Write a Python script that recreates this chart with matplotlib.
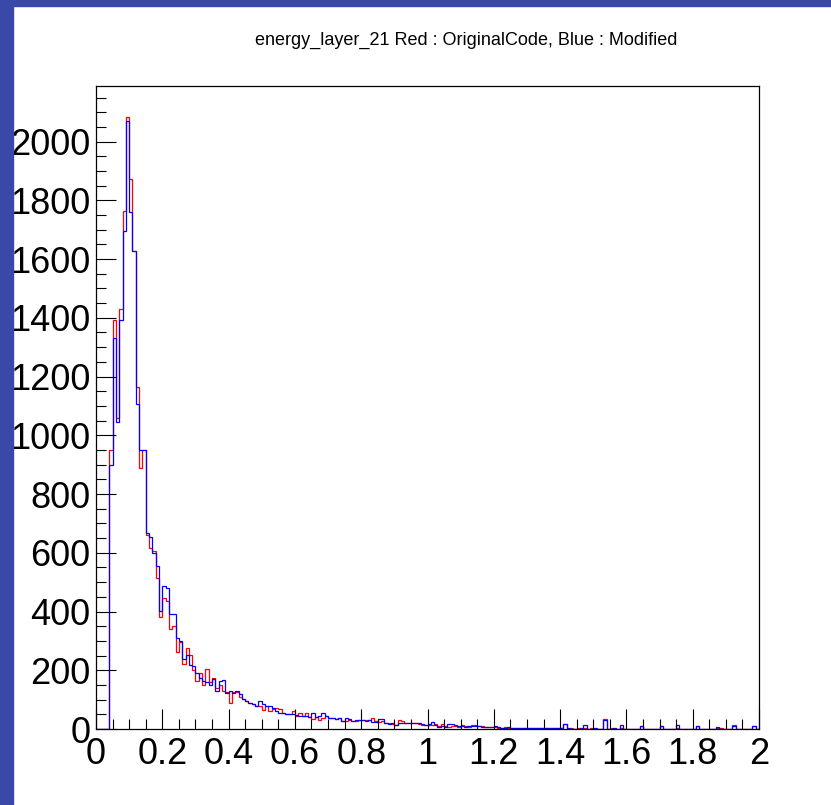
import numpy as np
import matplotlib
matplotlib.use("Agg")
import matplotlib.pyplot as plt
from matplotlib.ticker import MultipleLocator
from matplotlib.patches import Rectangle

plt.rcParams['font.family'] = ['Liberation Sans', 'DejaVu Sans']

title = "energy_layer_21 Red : OriginalCode, Blue : Modified"
x_min, x_max, n_bins = 0.0, 2.0, 200

red_counts = [
    0, 0, 0, 0, 950, 1392, 1060, 1430, 1763, 2085,
    1873, 1627, 1166, 889, 949, 660, 616, 605, 514, 382,
    446, 437, 339, 350, 263, 296, 223, 277, 251, 200,
    165, 190, 150, 203, 160, 175, 140, 150, 130, 125,
    90, 125, 125, 110, 101, 95, 90, 84, 79, 79,
    65, 79, 60, 67, 73, 67, 56, 51, 51, 62,
    45, 55, 45, 55, 40, 35, 40, 30, 38, 43,
    38, 36, 34, 38, 28, 26, 32, 28, 26, 30,
    29, 29, 29, 37, 28, 25, 28, 22, 20, 17,
    14, 31, 28, 20, 22, 22, 20, 17, 15, 14,
    12, 12, 17, 11, 18, 10, 8, 10, 11, 8,
    12, 11, 8, 13, 12, 11, 10, 8, 6, 8,
    8, 5, 5, 6, 4, 5, 3, 5, 3, 4,
    3, 5, 3, 2, 4, 3, 2, 3, 2, 3,
    2, 17, 0, 2, 0, 2, 0, 2, 0, 3,
    0, 0, 0, 33, 0, 2, 0, 0, 3, 0,
    0, 0, 0, 0, 10, 0, 0, 0, 0, 0,
    10, 0, 0, 0, 0, 4, 0, 0, 0, 0,
    0, 10, 0, 0, 0, 0, 0, 5, 4, 0,
    0, 0, 12, 0, 0, 0, 0, 0, 10, 0,
]

blue_counts = [
    0, 0, 0, 0, 900, 1330, 1045, 1392, 1695, 2070,
    1760, 1627, 1107, 949, 949, 667, 655, 600, 554, 401,
    486, 480, 390, 390, 311, 300, 237, 251, 217, 215,
    190, 175, 165, 160, 150, 169, 130, 165, 167, 123,
    130, 123, 130, 118, 101, 95, 90, 84, 79, 95,
    84, 79, 79, 73, 60, 56, 56, 51, 51, 51,
    48, 43, 45, 43, 40, 55, 40, 44, 56, 43,
    38, 36, 34, 38, 28, 36, 34, 28, 30, 30,
    29, 27, 29, 24, 24, 33, 33, 22, 17, 20,
    14, 22, 20, 20, 20, 22, 20, 20, 17, 12,
    17, 25, 12, 8, 10, 8, 18, 18, 12, 10,
    10, 8, 10, 10, 10, 10, 8, 8, 8, 6,
    10, 7, 5, 5, 6, 3, 5, 5, 4, 3,
    4, 2, 4, 3, 3, 2, 3, 2, 2, 2,
    2, 18, 2, 0, 0, 0, 2, 14, 0, 0,
    2, 0, 0, 29, 0, 0, 2, 0, 14, 0,
    0, 0, 0, 0, 10, 0, 0, 0, 0, 0,
    10, 0, 0, 0, 0, 14, 0, 0, 0, 0,
    0, 10, 0, 0, 0, 0, 0, 7, 0, 0,
    0, 0, 10, 0, 0, 0, 0, 0, 10, 0,
]

edges = np.linspace(x_min, x_max, n_bins + 1)
y_top = 1.05 * max(max(red_counts), max(blue_counts))

W, H = 831, 805
fig = plt.figure(figsize=(W / 100, H / 100), dpi=100)
fig.patch.set_facecolor('white')
border = '#3a48a8'
fig.patches.append(Rectangle((0, 0), 13 / W, 1, transform=fig.transFigure,
                             color=border, zorder=0))
fig.patches.append(Rectangle((0, 1 - 6 / H), 1, 6 / H, transform=fig.transFigure,
                             color=border, zorder=0))

ax = fig.add_axes([96 / W, 76 / H, (759 - 96) / W, (729 - 86) / H])
ax.stairs(red_counts, edges, color='#ff0000', linewidth=0.9, baseline=0)
ax.stairs(blue_counts, edges, color='#0000ff', linewidth=0.9, baseline=0)

ax.set_xlim(x_min, x_max)
ax.set_ylim(0, y_top)

ax.xaxis.set_major_locator(MultipleLocator(0.2))
ax.xaxis.set_minor_locator(MultipleLocator(0.05))
ax.yaxis.set_major_locator(MultipleLocator(200))
ax.yaxis.set_minor_locator(MultipleLocator(50))
ax.xaxis.set_major_formatter(matplotlib.ticker.FuncFormatter(lambda v, p: f"{v:g}"))

ax.tick_params(which='both', direction='in', top=False, right=False,
               color='black', width=0.8, labelsize=26)
ax.tick_params(which='major', length=14.4)
ax.tick_params(which='minor', length=7.2)
ax.tick_params(axis='y', which='major', pad=4)
ax.tick_params(axis='x', which='major', pad=6)
for s in ax.spines.values():
    s.set_linewidth(0.9)
    s.set_color('black')

fig.text(466 / W, 1 - 40 / H, title, ha='center', va='center', fontsize=13)

fig.savefig('out.png', dpi=100)
